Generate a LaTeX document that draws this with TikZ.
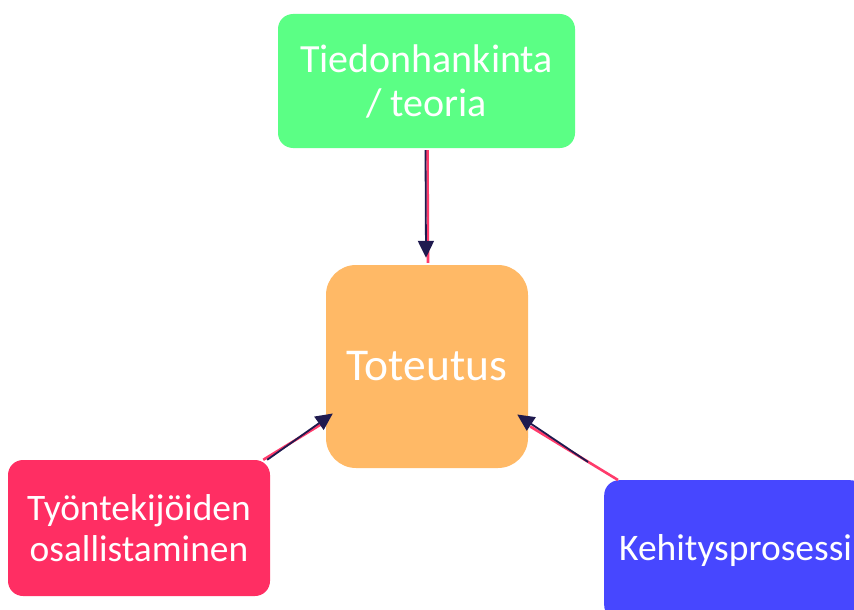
\documentclass[tikz,border=0pt]{standalone}
\usepackage{fontspec}
\setmainfont{Carlito}
\usetikzlibrary{arrows.meta}
\definecolor{boxgreen}{HTML}{5BFF85}
\definecolor{boxorange}{HTML}{FFB966}
\definecolor{boxred}{HTML}{FF2E63}
\definecolor{boxblue}{HTML}{4747FF}
\definecolor{linkpink}{HTML}{FF3B6B}
\definecolor{linknavy}{HTML}{1F1A4F}
\tikzset{
	box/.style={rounded corners=15pt, text=white, align=center, inner sep=0pt},
	link/.style={linkpink, line width=2.6pt},
	pointer/.style={linknavy, line width=1.8pt, -{Triangle[width=16pt,length=17pt]}}
}
\begin{document}
\begin{tikzpicture}[x=1pt, y=-1pt]
		\useasboundingbox (0, 0) rectangle (854, 610);
		\clip (0, 0) rectangle (854, 610);
		\node[box, fill=boxgreen, minimum width=297pt, minimum height=134pt, font=\fontsize{40}{44}\selectfont]
			(theory) at (426.5, 81) {Tiedonhankinta\\/ teoria};
		\node[box, fill=boxorange, rounded corners=30pt, minimum width=202pt, minimum height=203pt, font=\fontsize{45.5}{52}\selectfont]
			(impl) at (427, 366.5) {Toteutus};
		\node[box, fill=boxred, minimum width=262pt, minimum height=136pt, font=\fontsize{37.4}{41}\selectfont]
			(staff) at (139, 528) {Työntekijöiden\\osallistaminen};
		\node[box, fill=boxblue, anchor=north west, minimum height=140pt, inner xsep=15pt, text width=231pt, align=left, font=\fontsize{37.5}{41}\selectfont]
			(devel) at (604, 480) {Kehitysprosessi};
		% connectors
		\draw[link] ([xshift=1pt, yshift=-2pt]theory.south) -- ([xshift=1pt, yshift=2pt]impl.north);
		\draw[pointer] ([xshift=-1pt, yshift=-2pt]theory.south) -- ([xshift=-1pt, yshift=7pt]impl.north);
		\draw[link] ([xshift=-7pt]staff.north east) -- ([xshift=-5pt, yshift=-58pt]impl.west);
		\draw[pointer] ([xshift=-3pt]staff.north east) -- ([xshift=7pt, yshift=-47pt]impl.west);
		\draw[link] ([xshift=14pt]devel.north west) -- ([xshift=2pt, yshift=-60pt]impl.east);
		\draw[pointer] ([xshift=-16pt, yshift=18pt]devel.north west) -- ([xshift=-11pt, yshift=-48pt]impl.east);
	\end{tikzpicture}
\end{document}
